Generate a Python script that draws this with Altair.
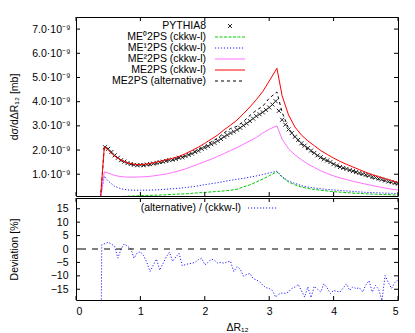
import altair as alt
import pandas as pd

FONT = "Liberation Sans"

# ---- data (upper panel values in units of 1e-9 mb) ----
line_x = [0.38, 0.44, 0.5, 0.6, 0.7, 0.8, 0.9, 1.0, 1.1, 1.2, 1.3, 1.4, 1.5, 1.6, 1.7,
          1.8, 1.9, 2.0, 2.1, 2.2, 2.3, 2.4, 2.5, 2.6, 2.7, 2.8, 2.9, 3.0, 3.12, 3.2,
          3.3, 3.4, 3.5, 3.6, 3.7, 3.8, 3.9, 4.0, 4.1, 4.2, 4.3, 4.4, 4.5, 4.6, 4.7,
          4.8, 4.9, 5.0]

me2ps_ckkw = [0, 2.13, 2.0, 1.75, 1.58, 1.47, 1.41, 1.40, 1.42, 1.47, 1.53, 1.60, 1.66,
              1.74, 1.85, 1.98, 2.12, 2.28, 2.45, 2.62, 2.84, 3.03, 3.24, 3.50, 3.78,
              4.08, 4.42, 4.85, 5.38, 4.25, 3.45, 2.95, 2.62, 2.38, 2.18, 1.98, 1.82,
              1.67, 1.53, 1.41, 1.30, 1.19, 1.08, 0.98, 0.90, 0.82, 0.74, 0.66]

me2ps_alt = [0, 2.15, 2.02, 1.76, 1.55, 1.47, 1.38, 1.38, 1.36, 1.41, 1.44, 1.55, 1.58,
             1.68, 1.76, 1.87, 2.03, 2.15, 2.34, 2.49, 2.71, 2.89, 2.98, 3.18, 3.43,
             3.64, 3.81, 4.14, 4.40, 3.56, 2.90, 2.52, 2.24, 2.02, 1.86, 1.67, 1.54,
             1.42, 1.29, 1.20, 1.12, 1.01, 0.93, 0.84, 0.77, 0.72, 0.64, 0.58]

me2_2ps = [0, 1.10, 1.05, 0.95, 0.90, 0.88, 0.88, 0.89, 0.90, 0.93, 0.97, 1.01, 1.07,
           1.14, 1.22, 1.32, 1.42, 1.52, 1.62, 1.74, 1.86, 1.98, 2.10, 2.24, 2.38,
           2.52, 2.70, 2.86, 3.00, 2.45, 2.05, 1.80, 1.60, 1.42, 1.28, 1.14, 1.03,
           0.93, 0.85, 0.78, 0.71, 0.65, 0.59, 0.53, 0.48, 0.43, 0.38, 0.35]

me1_2ps = [0, 0.92, 0.72, 0.50, 0.40, 0.35, 0.34, 0.34, 0.34, 0.35, 0.36, 0.38, 0.40,
           0.42, 0.45, 0.48, 0.52, 0.57, 0.61, 0.65, 0.70, 0.75, 0.79, 0.83, 0.88,
           0.93, 0.99, 1.05, 1.13, 0.90, 0.72, 0.62, 0.53, 0.47, 0.43, 0.40, 0.37,
           0.35, 0.33, 0.31, 0.29, 0.27, 0.25, 0.24, 0.23, 0.22, 0.21, 0.20]

me0_2ps = [0, 0.02, 0.04, 0.06, 0.08, 0.09, 0.10, 0.11, 0.12, 0.13, 0.14, 0.15, 0.17,
           0.18, 0.19, 0.21, 0.23, 0.25, 0.27, 0.29, 0.31, 0.34, 0.38, 0.48, 0.56,
           0.68, 0.80, 0.94, 1.10, 0.88, 0.68, 0.56, 0.47, 0.41, 0.37, 0.34, 0.31,
           0.28, 0.26, 0.24, 0.22, 0.21, 0.19, 0.18, 0.17, 0.16, 0.15, 0.14]

pythia_x = [0.45, 0.50, 0.55, 0.60, 0.65, 0.70, 0.75, 0.80, 0.85, 0.90, 0.95, 1.00,
            1.05, 1.10, 1.15, 1.20, 1.25, 1.30, 1.35, 1.40, 1.45, 1.50, 1.55, 1.60,
            1.65, 1.70, 1.75, 1.80, 1.85, 1.90, 1.95, 2.00, 2.05, 2.10, 2.15, 2.20,
            2.25, 2.30, 2.35, 2.40, 2.45, 2.50, 2.55, 2.60, 2.65, 2.70, 2.75, 2.80,
            2.85, 2.90, 2.95, 3.00, 3.05, 3.10, 3.15, 3.20, 3.25, 3.30, 3.35, 3.40,
            3.45, 3.50, 3.55, 3.60, 3.65, 3.70, 3.75, 3.80, 3.85, 3.90, 3.95, 4.00,
            4.05, 4.10, 4.15, 4.20, 4.25, 4.30, 4.35, 4.40, 4.45, 4.50, 4.55, 4.60,
            4.65, 4.70, 4.75, 4.80, 4.85, 4.90, 4.95, 5.00]
pythia_y = [2.12, 2.05, 1.92, 1.78, 1.68, 1.58, 1.52, 1.46, 1.42, 1.39, 1.37, 1.38,
            1.37, 1.40, 1.42, 1.44, 1.47, 1.50, 1.52, 1.55, 1.58, 1.60, 1.63, 1.68,
            1.70, 1.75, 1.80, 1.85, 1.92, 1.97, 2.05, 2.10, 2.16, 2.24, 2.30, 2.38,
            2.46, 2.55, 2.62, 2.70, 2.76, 2.84, 2.92, 3.02, 3.10, 3.20, 3.30, 3.40,
            3.48, 3.56, 3.66, 3.76, 3.88, 4.02, 3.62, 3.25, 3.05, 2.85, 2.70, 2.55,
            2.42, 2.28, 2.18, 2.08, 1.98, 1.88, 1.78, 1.70, 1.62, 1.57, 1.50, 1.42,
            1.36, 1.30, 1.26, 1.22, 1.17, 1.13, 1.09, 1.05, 1.01, 0.98, 0.94, 0.90,
            0.86, 0.82, 0.78, 0.74, 0.70, 0.67, 0.64, 0.61]

dev_x = [0.39, 0.40, 0.45, 0.50, 0.55, 0.60, 0.65, 0.70, 0.75, 0.80, 0.85, 0.90, 0.95,
         1.00, 1.05, 1.10, 1.15, 1.20, 1.25, 1.30, 1.35, 1.40, 1.45, 1.50, 1.55, 1.60,
         1.65, 1.70, 1.75, 1.80, 1.85, 1.90, 1.95, 2.00, 2.05, 2.10, 2.15, 2.20, 2.25,
         2.30, 2.35, 2.40, 2.45, 2.50, 2.55, 2.60, 2.65, 2.70, 2.75, 2.80, 2.85, 2.90,
         2.95, 3.00, 3.05, 3.10, 3.15, 3.20, 3.25, 3.30, 3.35, 3.40, 3.45, 3.50, 3.55,
         3.60, 3.65, 3.70, 3.75, 3.80, 3.85, 3.90, 3.95, 4.00, 4.05, 4.10, 4.15, 4.20,
         4.25, 4.30, 4.35, 4.40, 4.45, 4.50, 4.55, 4.60, 4.65, 4.70, 4.75, 4.80, 4.85,
         4.90, 4.95, 5.00]
dev_y = [-30.0, 1.6, 2.0, 2.5, 1.8, 1.0, -3.4, 0.0, 1.9, 1.0, 0.2, -3.4, -1.5,
         -1.0, -2.5, -5.0, -8.4, -6.0, -3.75, -7.9, -5.5, -3.0, -1.2, -4.6, -3.0, -1.6,
         -6.25, -5.8, -5.5, -5.3, -5.0, -4.0, -3.4, -5.9, -5.0, -3.75, -4.2, -5.25, -5.0,
         -5.3, -4.8, -4.6, -8.4, -6.6, -7.5, -10.1, -9.5, -9.1, -11.0, -11.5, -12.2, -13.5,
         -14.4, -14.7, -15.5, -17.9, -16.8, -16.4, -16.5, -16.0, -14.7, -14.2, -13.2, -15.5, -17.9,
         -14.1, -18.1, -13.9, -15.0, -16.0, -13.0, -14.5, -16.6, -15.4, -15.8, -16.0, -14.5, -13.0,
         -15.4, -14.1, -14.8, -14.4, -16.0, -13.5, -11.8, -16.0, -13.6, -15.0, -19.2, -9.9, -12.5,
         -14.7, -12.5, -11.5]

x_ticks = [0, 1, 2, 3, 4, 5]
upper_ticks = [1, 2, 3, 4, 5, 6, 7]
lower_ticks = [-15, -10, -5, 0, 5, 10, 15]

W = 322
H1 = 179
H2 = 102
TL = 4

xscale = alt.Scale(domain=[0, 5], nice=False, zero=False)
y1scale = alt.Scale(domain=[0.1, 7.5], nice=False, zero=False)
y2scale = alt.Scale(domain=[-19, 19], nice=False, zero=False)

RED = "#ff0000"
MAG = "#ff70ff"
BLUE = "#2020ff"
GREEN = "#00cc00"
BLACK = "#000000"

CROSS = "M-1,-1L1,1M-1,1L1,-1"

# axes (identical objects on every layer so that they merge cleanly)
x1axis = alt.Axis(values=x_ticks, labels=False, ticks=False, domain=False, grid=False,
                  title=None)
y1axis = alt.Axis(values=upper_ticks, ticks=False, domain=False, grid=False,
                  labelOverlap=False,
                  labelExpr="format(datum.value, '.1f') + '·10⁻⁹'",
                  labelPadding=6, title="dσ/dΔR₁₂  [mb]", titleX=-62,
                  titleBaseline="middle", titleAngle=270)
y2axis = alt.Axis(values=lower_ticks, ticks=False, domain=False, grid=False,
                  labelOverlap=False,
                  labelPadding=8, title="Deviation [%]", titleX=-62,
                  titleBaseline="middle", titleAngle=270)
x2axis = alt.Axis(values=x_ticks, ticks=False, domain=False, grid=False,
                  labelOverlap=False,
                  labelPadding=6, title="ΔR₁₂", titlePadding=6, format="d")


def series(xs, ys, color, dash):
    df = pd.DataFrame({"x": xs, "y": ys})
    kw = dict(color=color, strokeWidth=1, clip=True)
    if dash:
        kw["strokeDash"] = dash
    return alt.Chart(df).mark_line(**kw).encode(
        x=alt.X("x:Q", scale=xscale, axis=x1axis),
        y=alt.Y("y:Q", scale=y1scale, axis=y1axis),
    )


def tick_layers(xt, yt, h, xaxis, yscale, yaxis):
    dx = pd.DataFrame({"v": xt})
    dy = pd.DataFrame({"v": yt})
    return [
        alt.Chart(dx).mark_rule(color="black", strokeWidth=1).encode(
            x=alt.X("v:Q", scale=xscale, axis=xaxis), y=alt.value(h), y2=alt.value(h - TL)),
        alt.Chart(dx).mark_rule(color="black", strokeWidth=1).encode(
            x=alt.X("v:Q", scale=xscale, axis=xaxis), y=alt.value(0), y2=alt.value(TL)),
        alt.Chart(dy).mark_rule(color="black", strokeWidth=1).encode(
            y=alt.Y("v:Q", scale=yscale, axis=yaxis), x=alt.value(0), x2=alt.value(TL)),
        alt.Chart(dy).mark_rule(color="black", strokeWidth=1).encode(
            y=alt.Y("v:Q", scale=yscale, axis=yaxis), x=alt.value(W), x2=alt.value(W - TL)),
    ]


upper_layers = [
    series(line_x, me0_2ps, GREEN, [3, 1.5]),
    series(line_x, me1_2ps, BLUE, [1.2, 1.8]),
    series(line_x, me2_2ps, MAG, None),
    series(line_x, me2ps_alt, BLACK, [3, 3]),
    alt.Chart(pd.DataFrame({"x": pythia_x, "y": pythia_y})).mark_point(
        shape=CROSS, filled=False, size=16, strokeWidth=1, color="#222222", opacity=1,
        clip=True).encode(
        x=alt.X("x:Q", scale=xscale, axis=x1axis),
        y=alt.Y("y:Q", scale=y1scale, axis=y1axis)),
    series(line_x, me2ps_ckkw, RED, None),
]

# legend (gnuplot style key)
legend_entries = [
    ("PYTHIA8", None, None),
    ("ME⁰2PS (ckkw-l)", GREEN, [3, 1.5]),
    ("ME¹2PS (ckkw-l)", BLUE, [1.2, 1.8]),
    ("ME²2PS (ckkw-l)", MAG, None),
    ("ME2PS (ckkw-l)", RED, None),
    ("ME2PS (alternative)", BLACK, [3, 3]),
]
for i, (lab, col, dash) in enumerate(legend_entries):
    ry = 9 + i * 11
    upper_layers.append(
        alt.Chart(pd.DataFrame({"t": [lab]})).mark_text(
            align="right", baseline="middle", font=FONT, fontSize=10.5, color="black").encode(
            text="t:N", x=alt.value(130), y=alt.value(ry)))
    if col is None:
        upper_layers.append(
            alt.Chart(pd.DataFrame({"t": [lab]})).mark_point(
                shape=CROSS, filled=False, size=16, strokeWidth=1, color="#222222", opacity=1).encode(
                x=alt.value(154), y=alt.value(ry)))
    else:
        kw = dict(color=col, strokeWidth=1)
        if dash:
            kw["strokeDash"] = dash
        upper_layers.append(
            alt.Chart(pd.DataFrame({"t": [lab]})).mark_rule(**kw).encode(
                x=alt.value(139), x2=alt.value(169), y=alt.value(ry)))

upper_layers += tick_layers(x_ticks, upper_ticks, H1, x1axis, y1scale, y1axis)
upper = alt.layer(*upper_layers).properties(width=W, height=H1)

# lower panel
lower_layers = [
    alt.Chart(pd.DataFrame({"x": dev_x, "y": dev_y})).mark_line(
        color=BLUE, strokeWidth=1, strokeDash=[1.2, 1.8], clip=True).encode(
        x=alt.X("x:Q", scale=xscale, axis=x2axis),
        y=alt.Y("y:Q", scale=y2scale, axis=y2axis)),
    alt.Chart(pd.DataFrame({"y": [0]})).mark_rule(
        color="black", strokeWidth=1, strokeDash=[6, 6]).encode(
        y=alt.Y("y:Q", scale=y2scale, axis=y2axis)),
    alt.Chart(pd.DataFrame({"t": ["(alternative) / (ckkw-l)"]})).mark_text(
        align="right", baseline="middle", font=FONT, fontSize=10.5, color="black").encode(
        text="t:N", x=alt.value(165), y=alt.value(10)),
    alt.Chart(pd.DataFrame({"t": ["s"]})).mark_rule(
        color=BLUE, strokeWidth=1, strokeDash=[1.2, 1.8]).encode(
        x=alt.value(172), x2=alt.value(202), y=alt.value(10)),
]
lower_layers += tick_layers(x_ticks, lower_ticks, H2, x2axis, y2scale, y2axis)
lower = alt.layer(*lower_layers).properties(width=W, height=H2)

chart = alt.vconcat(upper, lower, spacing=0).properties(
    padding={"left": 0, "top": 8, "right": 5, "bottom": 0}
).configure_view(
    stroke="black", strokeWidth=1
).configure_axis(
    labelFont=FONT, titleFont=FONT, labelFontSize=10.5, titleFontSize=10.5,
    labelColor="black", titleColor="black", titleFontWeight="normal",
    labelOverlap=False
)

chart.save("out.html", embed_options={"renderer": "svg", "actions": False})
